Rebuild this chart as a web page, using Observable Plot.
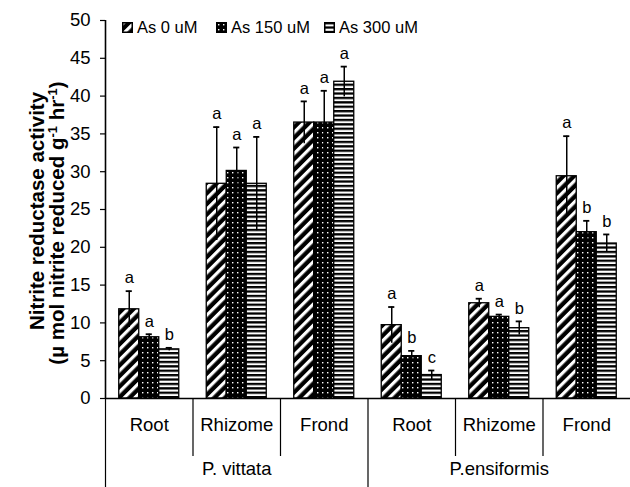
<!DOCTYPE html>
<html>
<head>
<meta charset="utf-8">
<script src="https://cdn.jsdelivr.net/npm/d3@7"></script>
<script src="https://cdn.jsdelivr.net/npm/@observablehq/plot@0.6"></script>
<style>
  body { margin: 0; background: #fff; font-family: "Liberation Sans", Arial, sans-serif; }
  #wrap { position: relative; width: 630px; height: 487px; }
  #legend { position: absolute; left: 0; top: 0; font-size: 16.5px; color: #000; }
  #legend .item { position: absolute; top: 18px; display: flex; align-items: center; white-space: nowrap; }
  #legend svg { margin-right: 4px; }
  .ytitle { position: absolute; font-weight: bold; font-size: 20.5px; white-space: nowrap; transform: translate(-50%, -50%) rotate(-90deg); color: #000; }
  .ytitle sup { font-size: 13px; }
</style>
</head>
<body>
<div id="wrap">
  <div id="chart"></div>
  <div id="legend"></div>
  <div class="ytitle" style="left:37px; top:211px;">Nitrite reductase activity</div>
  <div class="ytitle" style="left:57px; top:223px;">(µ mol nitrite reduced g<sup>-1</sup> hr<sup>-1</sup>)</div>
</div>
<script>
// ---- data ----
const species = ["P. vittata", "P.ensiformis"];
const tissues = ["Root", "Rhizome", "Frond"];
const series = ["As 0 uM", "As 150 uM", "As 300 uM"];
// means per category (P. vittata Root, Rhizome, Frond, P.ensiformis Root, Rhizome, Frond)
const as0   = [11.8, 28.4, 36.5, 9.7, 12.6, 29.4];
const as150 = [8.1, 30.1, 36.5, 5.6, 10.8, 22.0];
const as300 = [6.5, 28.4, 41.9, 3.1, 9.3, 20.5];
const err0   = [2.4, 7.5, 2.8, 2.4, 0.6, 5.3];
const err150 = [0.4, 3.1, 4.2, 0.7, 0.3, 1.5];
const err300 = [0.2, 6.2, 2.0, 0.6, 0.9, 1.2];
const let0   = ["a", "a", "a", "a", "a", "a"];
const let150 = ["a", "a", "a", "b", "a", "b"];
const let300 = ["b", "a", "a", "c", "b", "b"];
const yTicks = [0, 5, 10, 15, 20, 25, 30, 35, 40, 45, 50];

// ---- table ----
const means = [as0, as150, as300];
const errs = [err0, err150, err300];
const lets = [let0, let150, let300];
const barW = 0.2286;
const rows = [];
for (let k = 0; k < 3; k++) {
  for (let i = 0; i < 6; i++) {
    const x1 = i + 0.5 + (k - 1.5) * barW;
    rows.push({k, i, x1, x2: x1 + barW, xc: x1 + barW / 2,
      v: means[k][i], lo: means[k][i] - errs[k][i], hi: means[k][i] + errs[k][i], letter: lets[k][i]});
  }
}
const catCenters = d3.range(6).map(i => i + 0.5);
const patIds = ["pdiag", "pdots", "phoriz"];

const patternDefs = `
<pattern id="pdiag" patternUnits="userSpaceOnUse" width="7.5" height="7.5" patternTransform="rotate(45)">
  <rect width="7.5" height="7.5" fill="#000"/><rect x="0" width="3.2" height="7.5" fill="#fff"/>
</pattern>
<pattern id="pdots" patternUnits="userSpaceOnUse" width="5" height="5">
  <rect width="5" height="5" fill="#000"/><rect x="2" y="2" width="1.4" height="1.4" fill="#fff"/>
</pattern>
<pattern id="phoriz" patternUnits="userSpaceOnUse" width="4" height="4.4">
  <rect width="4" height="4.4" fill="#000"/><rect y="2.3" width="4" height="2.1" fill="#fff"/>
</pattern>`;

const chart = Plot.plot({
  width: 630,
  height: 487,
  marginLeft: 105,
  marginRight: 0,
  marginTop: 20,
  marginBottom: 89,
  style: {fontFamily: "'Liberation Sans', Arial, sans-serif", color: "#000", background: "#fff"},
  x: {domain: [0, 6], axis: null},
  y: {domain: [0, 50], axis: null},
  marks: [
    // bars
    ...[0, 1, 2].map(k => Plot.rect(rows.filter(d => d.k === k), {
      x1: "x1", x2: "x2", y1: 0, y2: "v",
      fill: `url(#${patIds[k]})`, stroke: "#000", strokeWidth: 1.3
    })),
    // error bars
    Plot.ruleX(rows, {x: "xc", y1: "lo", y2: "hi", stroke: "#000", strokeWidth: 1.5}),
    Plot.ruleY(rows, {y: "hi", x1: d => d.xc - 0.035, x2: d => d.xc + 0.035, stroke: "#000", strokeWidth: 1.8}),
    // letters
    Plot.text(rows, {x: "xc", y: "hi", text: "letter", dy: -13, fontSize: 16.5, fill: "#000"}),
    // axes lines
    Plot.ruleX([0], {y1: 0, y2: 50, stroke: "#000", strokeWidth: 1.6}),
    Plot.ruleY([0], {stroke: "#000", strokeWidth: 1.6}),
    Plot.axisY({ticks: yTicks, tickSize: 5, tickPadding: 10, fontSize: 18.5, strokeWidth: 1.2}),
    // category dividers
    Plot.axisX({ticks: [1, 2, 4, 5], tickSize: 58, tickFormat: () => "", strokeWidth: 1.2}),
    Plot.axisX({ticks: [0, 3], tickSize: 89, tickFormat: () => "", strokeWidth: 1.2}),
    // category labels
    Plot.axisX({ticks: catCenters, tickSize: 0, tickPadding: 19, fontSize: 18.5,
      tickFormat: (d) => tissues[Math.floor(d) % 3]}),
    Plot.axisX({ticks: [1.5, 4.5], tickSize: 0, tickPadding: 63, fontSize: 18.5,
      tickFormat: (d) => species[Math.floor(d / 3)]})
  ]
});

const defs = document.createElementNS("http://www.w3.org/2000/svg", "defs");
defs.innerHTML = patternDefs;
chart.insertBefore(defs, chart.firstChild);
document.getElementById("chart").appendChild(chart);

// legend
const legendLeft = [122, 216, 324];
const legend = document.getElementById("legend");
series.forEach((s, k) => {
  const item = document.createElement("div");
  item.className = "item";
  item.style.left = legendLeft[k] + "px";
  item.innerHTML = `<svg width="11" height="11"><defs>${patternDefs.replace(/id="(\w+)"/g, 'id="L$1"')}</defs>
    <rect x="0.75" y="0.75" width="9.5" height="9.5" fill="url(#L${patIds[k]})" stroke="#000" stroke-width="1.5"/></svg><span>${s}</span>`;
  legend.appendChild(item);
});
</script>
</body>
</html>
